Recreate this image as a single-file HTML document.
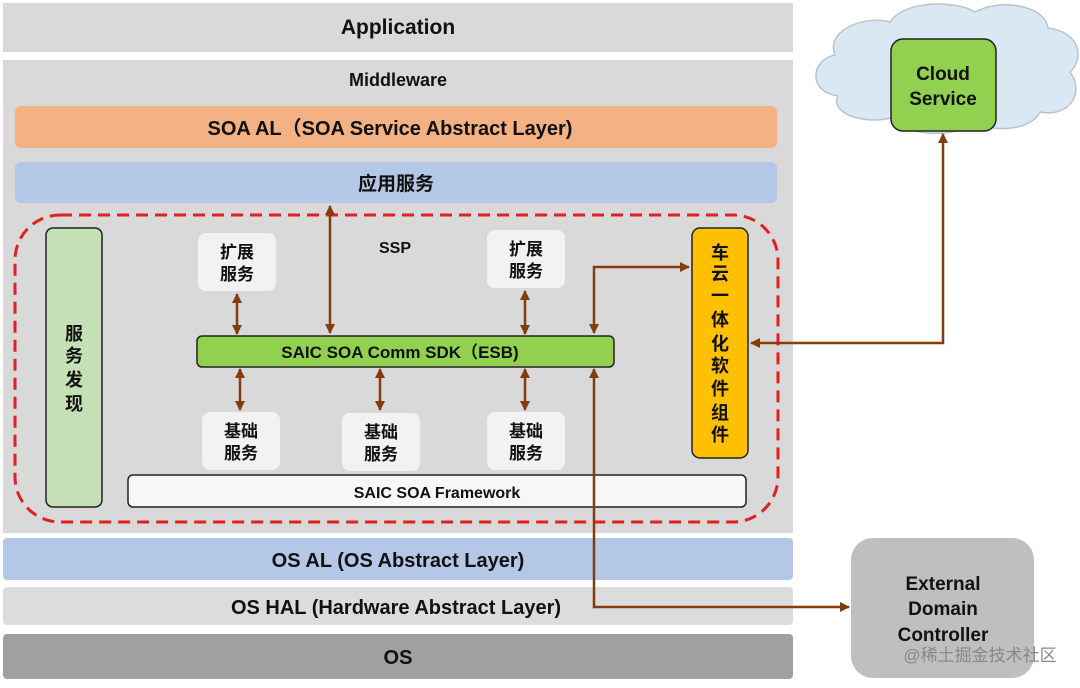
<!DOCTYPE html>
<html><head><meta charset="utf-8"><style>
body{margin:0;background:#fff}
text{font-family:"Liberation Sans","Noto Sans CJK SC",sans-serif;font-weight:bold;fill:#111}
</style></head><body>
<svg width="1080" height="683" viewBox="0 0 1080 683" xmlns="http://www.w3.org/2000/svg">
<defs>
<marker id="a" markerWidth="10" markerHeight="10" refX="9" refY="5" orient="auto-start-reverse" markerUnits="userSpaceOnUse"><path d="M0,0 L10,5 L0,10 z" fill="#843c0c"/></marker>
</defs>
<rect x="3" y="3" width="790" height="49" fill="#d9d9d9"/>
<text x="398" y="34" font-size="21" text-anchor="middle">Application</text>
<rect x="3" y="60" width="790" height="473" fill="#d9d9d9"/>
<text x="398" y="86" font-size="18" text-anchor="middle">Middleware</text>
<rect x="15" y="106" width="762" height="42" rx="6" fill="#f4b183"/>
<text x="390" y="135" font-size="20" text-anchor="middle">SOA AL（SOA Service Abstract Layer)</text>
<rect x="15" y="162" width="762" height="41" rx="6" fill="#b4c7e7"/>
<text x="396" y="190" font-size="19" text-anchor="middle">应用服务</text>
<rect x="15" y="215" width="763" height="307" rx="45" fill="none" stroke="#e02020" stroke-width="3" stroke-dasharray="12,7"/>
<rect x="46" y="228" width="56" height="279" rx="7" fill="#c5e0b4" stroke="#222" stroke-width="1.5"/>
<text font-size="18" text-anchor="middle"><tspan x="74" y="340">服</tspan><tspan x="74" y="362">务</tspan><tspan x="74" y="386">发</tspan><tspan x="74" y="410">现</tspan></text>
<text x="395" y="253" font-size="16" text-anchor="middle">SSP</text>
<g fill="#f2f2f2">
<rect x="198" y="233" width="78" height="58" rx="8"/>
<rect x="487" y="230" width="78" height="58" rx="8"/>
<rect x="202" y="412" width="78" height="58" rx="8"/>
<rect x="342" y="413" width="78" height="58" rx="8"/>
<rect x="487" y="412" width="78" height="58" rx="8"/>
</g>
<g font-size="17" text-anchor="middle">
<text x="237" y="258">扩展</text><text x="237" y="280">服务</text>
<text x="526" y="255">扩展</text><text x="526" y="277">服务</text>
<text x="241" y="437">基础</text><text x="241" y="459">服务</text>
<text x="381" y="438">基础</text><text x="381" y="460">服务</text>
<text x="526" y="437">基础</text><text x="526" y="459">服务</text>
</g>
<rect x="197" y="336" width="417" height="31" rx="5" fill="#92d050" stroke="#222" stroke-width="1.5"/>
<text x="400" y="358" font-size="17" text-anchor="middle">SAIC SOA Comm SDK（ESB)</text>
<rect x="128" y="475" width="618" height="32" rx="5" fill="#f7f7f7" stroke="#222" stroke-width="1.5"/>
<text x="437" y="498" font-size="16" text-anchor="middle">SAIC SOA Framework</text>
<rect x="692" y="228" width="56" height="230" rx="8" fill="#ffc000" stroke="#222" stroke-width="1.5"/>
<text font-size="18" text-anchor="middle"><tspan x="720" y="259">车</tspan><tspan x="720" y="280">云</tspan><tspan x="720" y="302">一</tspan><tspan x="720" y="326">体</tspan><tspan x="720" y="350">化</tspan><tspan x="720" y="372">软</tspan><tspan x="720" y="395">件</tspan><tspan x="720" y="419">组</tspan><tspan x="720" y="441">件</tspan></text>
<rect x="3" y="538" width="790" height="42" rx="4" fill="#b4c7e7"/>
<text x="398" y="567" font-size="20" text-anchor="middle">OS AL (OS Abstract Layer)</text>
<rect x="3" y="587" width="790" height="38" rx="4" fill="#dcdcdc"/>
<text x="396" y="614" font-size="20" text-anchor="middle">OS HAL (Hardware Abstract Layer)</text>
<rect x="3" y="634" width="790" height="45" rx="4" fill="#a0a0a0"/>
<text x="398" y="664" font-size="20" text-anchor="middle">OS</text>
<path d="M835,55 C825,30 865,15 890,22 C905,0 955,0 975,12 C1000,-2 1045,5 1048,28 C1080,32 1085,58 1070,72 C1085,92 1070,118 1040,112 C1030,132 990,132 975,122 C955,140 900,135 892,118 C860,125 830,112 838,96 C808,92 810,60 835,55 z" fill="#dae8f4" stroke="#b8c4ce" stroke-width="1.5"/>
<rect x="891" y="39" width="105" height="92" rx="12" fill="#92d050" stroke="#222" stroke-width="1.5"/>
<text x="943" y="80" font-size="19" text-anchor="middle">Cloud</text>
<text x="943" y="105" font-size="19" text-anchor="middle">Service</text>
<rect x="851" y="538" width="183" height="140" rx="22" fill="#bfbfbf"/>
<text x="943" y="590" font-size="19" text-anchor="middle">External</text>
<text x="943" y="615" font-size="19" text-anchor="middle">Domain</text>
<text x="943" y="641" font-size="19" text-anchor="middle">Controller</text>
<text x="980" y="661" font-size="17" style="font-weight:normal;fill:#888" text-anchor="middle">@稀土掘金技术社区</text>
<g stroke="#843c0c" stroke-width="2.5" fill="none" marker-start="url(#a)" marker-end="url(#a)">
<line x1="330" y1="206" x2="330" y2="333"/>
<line x1="237" y1="294" x2="237" y2="334"/>
<line x1="525" y1="291" x2="525" y2="334"/>
<line x1="240" y1="369" x2="240" y2="410"/>
<line x1="380" y1="369" x2="380" y2="410"/>
<line x1="525" y1="369" x2="525" y2="410"/>
<polyline points="594,333 594,267 689,267"/>
<polyline points="594,369 594,607 849,607"/>
<polyline points="943,134 943,343 751,343"/>
</g>
</svg>
</body></html>
